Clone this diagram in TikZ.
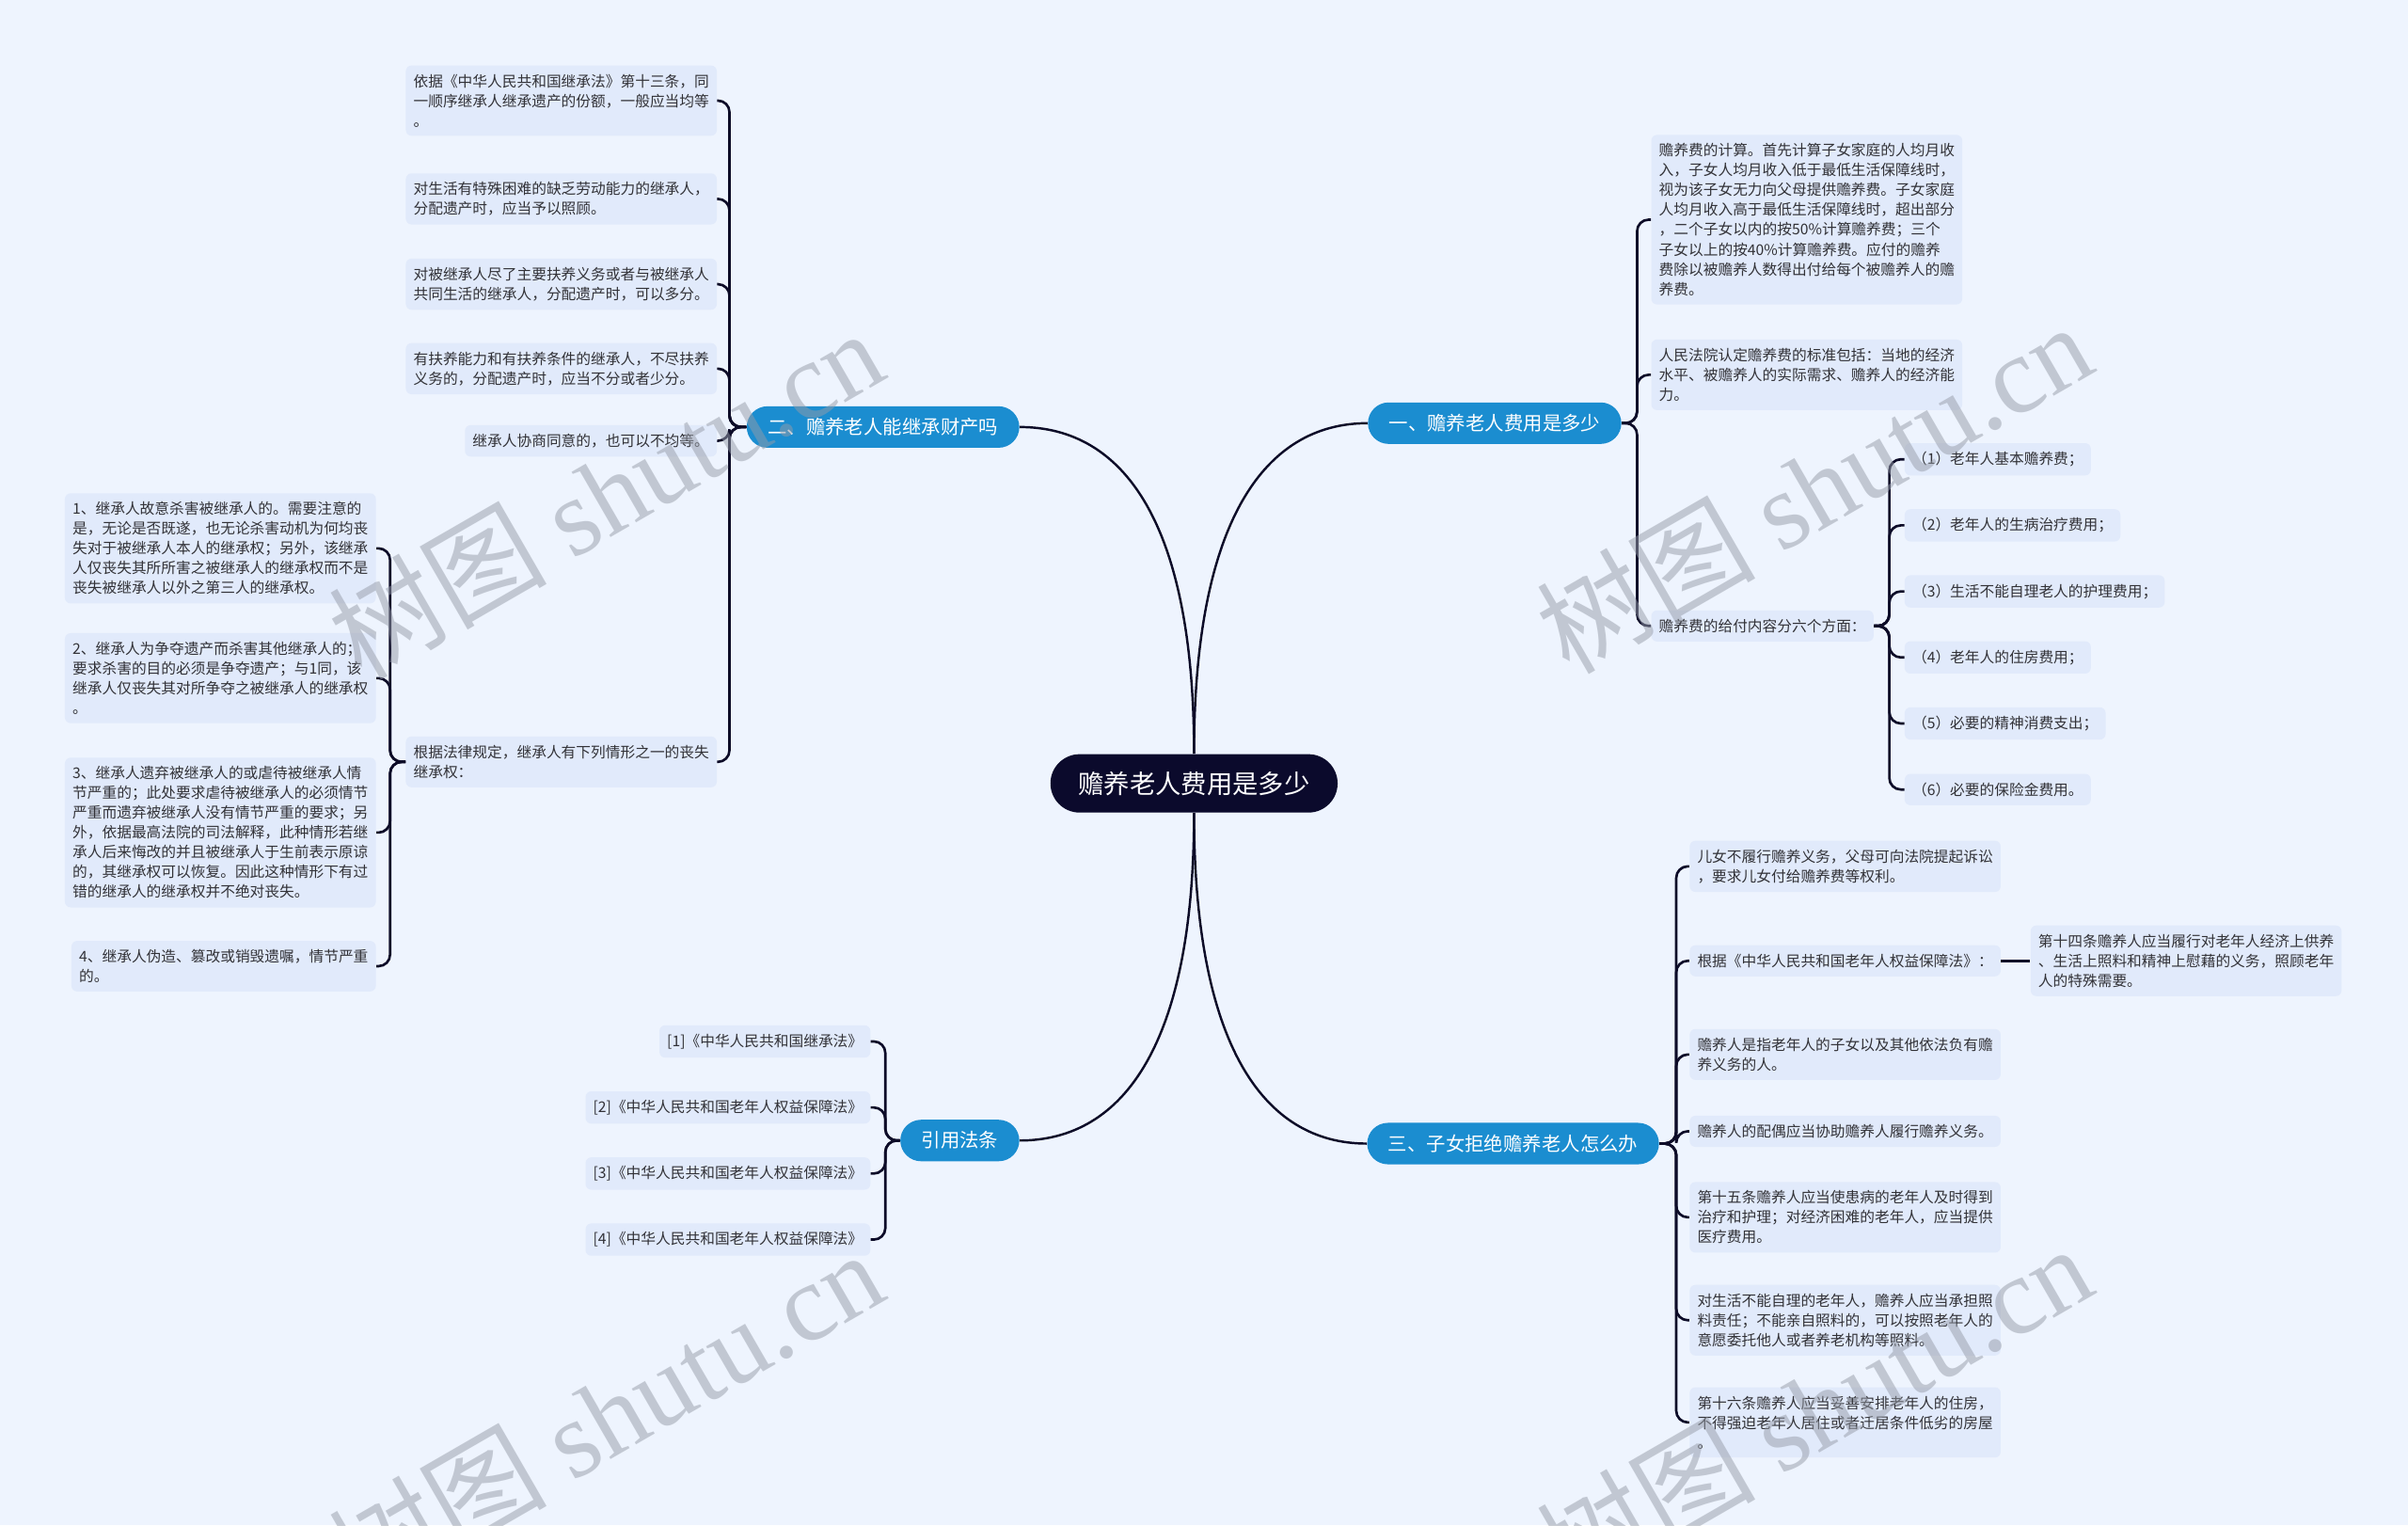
\documentclass[tikz,border=0pt]{standalone}
\usepackage{fontspec}
\setmainfont{Noto Sans CJK SC}
\newfontfamily\latinserif{Liberation Serif}
\definecolor{bgblue}{RGB}{238,244,254}
\definecolor{leafblue}{RGB}{225,234,251}
\definecolor{topicblue}{RGB}{27,141,208}
\definecolor{rootnavy}{RGB}{11,10,44}
\definecolor{linkdark}{RGB}{13,12,40}
\definecolor{leaftext}{RGB}{50,50,55}
\definecolor{wmgray}{RGB}{150,156,168}
\begin{document}
\begin{tikzpicture} [x = 0.8pt, y = -0.8pt,
  leaf/.style = {fill = leafblue, rounded corners = 3pt, align = left, inner xsep = 4pt, inner ysep = 4.5pt, text = leaftext, font = \fontsize{7.7pt}{10.3pt}\selectfont},
  topic/.style = {fill = topicblue, rounded corners = 10.8pt, minimum height = 21.6pt, inner xsep = 11pt, text = white, font = \fontsize{10pt}{12pt}\selectfont},
  link/.style = {draw = linkdark, line width = 1.3pt, rounded corners = 6pt},
  curve/.style = {draw = linkdark, line width = 1.2pt},
  watermark/.style = {text = wmgray, opacity = 0.5, rotate = 30, font = \fontsize{57pt}{57pt}\selectfont}]
\useasboundingbox (0,0) rectangle (1568,993);
\fill [bgblue] (0,0) rectangle (1568,993);

% centre and main topics
\node [fill = rootnavy, text = white, rounded corners = 15.2pt, minimum height = 30.4pt, inner xsep = 14.5pt, font = \fontsize{13.4pt}{16pt}\selectfont] (root) at (777.5,510) {赡养老人费用是多少};
\node [topic, anchor = west] (b1) at (890.5,275.5) {一、赡养老人费用是多少};
\node [topic, anchor = east] (b2) at (664,278) {二、赡养老人能继承财产吗};
\node [topic, anchor = west] (b3) at (890,744.5) {三、子女拒绝赡养老人怎么办};
\node [topic, anchor = east] (b4) at (664,742.5) {引用法条};

\draw [curve] (root.north) .. controls +(0,-150) and +(-68,0) .. (b1.west);
\draw [curve] (root.north) .. controls +(0,-150) and +(68,0) .. (b2.east);
\draw [curve] (root.south) .. controls +(0,150) and +(-68,0) .. (b3.west);
\draw [curve] (root.south) .. controls +(0,150) and +(68,0) .. (b4.east);

% branch one
\node [leaf, anchor = west] (c11) at (1075,143) {赡养费的计算。首先计算子女家庭的人均月收\\入，子女人均月收入低于最低生活保障线时，\\视为该子女无力向父母提供赡养费。子女家庭\\人均月收入高于最低生活保障线时，超出部分\\，二个子女以内的按50\%计算赡养费；三个\\子女以上的按40\%计算赡养费。应付的赡养\\费除以被赡养人数得出付给每个被赡养人的赡\\养费。};
\node [leaf, anchor = west] (c12) at (1075,244) {人民法院认定赡养费的标准包括：当地的经济\\水平、被赡养人的实际需求、赡养人的经济能\\力。};
\node [leaf, anchor = west] (c13) at (1075,407.5) {赡养费的给付内容分六个方面：};
\node [leaf, anchor = west] (e1) at (1240,299) {（1）老年人基本赡养费；};
\node [leaf, anchor = west] (e2) at (1240,342) {（2）老年人的生病治疗费用；};
\node [leaf, anchor = west] (e3) at (1240,385) {（3）生活不能自理老人的护理费用；};
\node [leaf, anchor = west] (e4) at (1240,428) {（4）老年人的住房费用；};
\node [leaf, anchor = west] (e5) at (1240,471) {（5）必要的精神消费支出；};
\node [leaf, anchor = west] (e6) at (1240,514) {（6）必要的保险金费用。};
\foreach \c in {c11,c12,c13} \draw [link] (b1.east) -- ++(10,0) |- (\c.west);
\foreach \c in {e1,e2,e3,e4,e5,e6} \draw [link] (c13.east) -- ++(10,0) |- (\c.west);

% branch two
\node [leaf, anchor = east] (c21) at (467,65.5) {依据《中华人民共和国继承法》第十三条，同\\一顺序继承人继承遗产的份额，一般应当均等\\。};
\node [leaf, anchor = east] (c22) at (467,129.5) {对生活有特殊困难的缺乏劳动能力的继承人，\\分配遗产时，应当予以照顾。};
\node [leaf, anchor = east] (c23) at (467,185) {对被继承人尽了主要扶养义务或者与被继承人\\共同生活的继承人，分配遗产时，可以多分。};
\node [leaf, anchor = east] (c24) at (467,240) {有扶养能力和有扶养条件的继承人，不尽扶养\\义务的，分配遗产时，应当不分或者少分。};
\node [leaf, anchor = east] (c25) at (467,287) {继承人协商同意的，也可以不均等。};
\node [leaf, anchor = east] (c26) at (467,496) {根据法律规定，继承人有下列情形之一的丧失\\继承权：};
\node [leaf, anchor = east] (d1) at (245,357) {1、继承人故意杀害被继承人的。需要注意的\\是，无论是否既遂，也无论杀害动机为何均丧\\失对于被继承人本人的继承权；另外，该继承\\人仅丧失其所所害之被继承人的继承权而不是\\丧失被继承人以外之第三人的继承权。};
\node [leaf, anchor = east] (d2) at (245,441.5) {2、继承人为争夺遗产而杀害其他继承人的；\\要求杀害的目的必须是争夺遗产；与1同，该\\继承人仅丧失其对所争夺之被继承人的继承权\\。};
\node [leaf, anchor = east] (d3) at (245,542) {3、继承人遗弃被继承人的或虐待被继承人情\\节严重的；此处要求虐待被继承人的必须情节\\严重而遗弃被继承人没有情节严重的要求；另\\外，依据最高法院的司法解释，此种情形若继\\承人后来悔改的并且被继承人于生前表示原谅\\的，其继承权可以恢复。因此这种情形下有过\\错的继承人的继承权并不绝对丧失。};
\node [leaf, anchor = east] (d4) at (245,629) {4、继承人伪造、篡改或销毁遗嘱，情节严重\\的。};
\foreach \c in {c21,c22,c23,c24,c25,c26} \draw [link] (b2.west) -- ++(-11,0) |- (\c.east);
\foreach \c in {d1,d2,d3,d4} \draw [link] (c26.west) -- ++(-10,0) |- (\c.east);

% branch three
\node [leaf, anchor = west] (c31) at (1100,564) {儿女不履行赡养义务，父母可向法院提起诉讼\\，要求儿女付给赡养费等权利。};
\node [leaf, anchor = west] (c32) at (1100,625.5) {根据《中华人民共和国老年人权益保障法》：};
\node [leaf, anchor = west] (f1) at (1322,625.5) {第十四条赡养人应当履行对老年人经济上供养\\、生活上照料和精神上慰藉的义务，照顾老年\\人的特殊需要。};
\node [leaf, anchor = west] (c33) at (1100,686.5) {赡养人是指老年人的子女以及其他依法负有赡\\养义务的人。};
\node [leaf, anchor = west] (c34) at (1100,736.5) {赡养人的配偶应当协助赡养人履行赡养义务。};
\node [leaf, anchor = west] (c35) at (1100,792.5) {第十五条赡养人应当使患病的老年人及时得到\\治疗和护理；对经济困难的老年人，应当提供\\医疗费用。};
\node [leaf, anchor = west] (c36) at (1100,859.5) {对生活不能自理的老年人，赡养人应当承担照\\料责任；不能亲自照料的，可以按照老年人的\\意愿委托他人或者养老机构等照料。};
\node [leaf, anchor = west] (c37) at (1100,926) {第十六条赡养人应当妥善安排老年人的住房，\\不得强迫老年人居住或者迁居条件低劣的房屋\\。};
\foreach \c in {c31,c32,c33,c34,c35,c36,c37} \draw [link] (b3.east) -- ++(11,0) |- (\c.west);
\draw [link] (c32.east) -- (f1.west);

% cited laws
\node [leaf, anchor = east] (g1) at (567,678) {[1]《中华人民共和国继承法》};
\node [leaf, anchor = east] (g2) at (567,721) {[2]《中华人民共和国老年人权益保障法》};
\node [leaf, anchor = east] (g3) at (567,764) {[3]《中华人民共和国老年人权益保障法》};
\node [leaf, anchor = east] (g4) at (567,807) {[4]《中华人民共和国老年人权益保障法》};
\foreach \c in {g1,g2,g3,g4} \draw [link] (b4.west) -- ++(-9.5,0) |- (\c.east);

% watermarks
\node [watermark] (wm1) at (394,321) {树图 {\latinserif shutu.cn}};
\node [watermark] (wm2) at (1181,317) {树图 {\latinserif shutu.cn}};
\node [watermark] (wm3) at (394,921) {树图 {\latinserif shutu.cn}};
\node [watermark] (wm4) at (1181,917) {树图 {\latinserif shutu.cn}};
\end{tikzpicture}
\end{document}
